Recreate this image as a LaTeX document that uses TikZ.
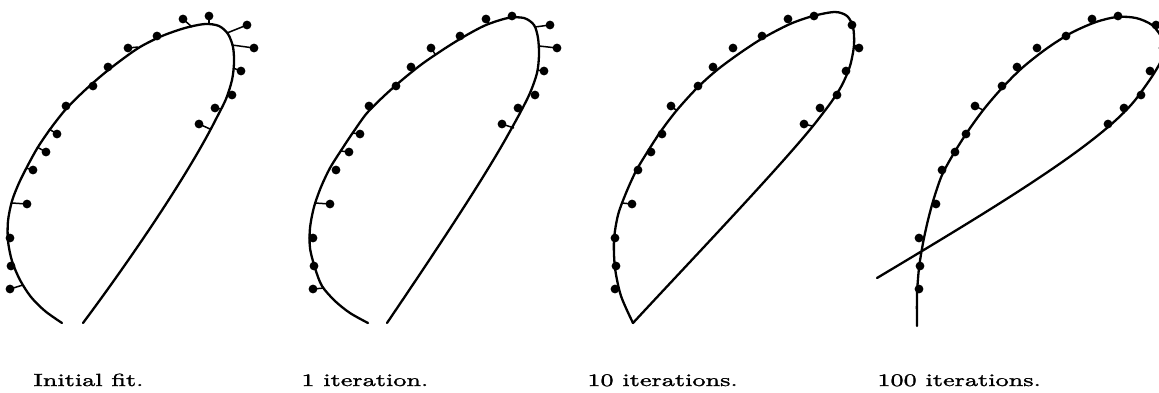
\documentclass[tikz,border=0pt]{standalone}
\usepackage{fontspec}
\usepackage{tikz}
\newfontfamily\capfont[FakeStretch=1.45,FakeBold=1.4]{Latin Modern Roman}

\begin{document}
\begin{tikzpicture}[x=0.5pt,y=-0.5pt,
  fitcurve/.style={line width=1.15pt,line join=round,line cap=round},
  resid/.style={line width=0.75pt},
  datum/.style={fill=black},
  caption/.style={anchor=base west,inner sep=0pt,font=\capfont\fontsize{8.8}{10}\selectfont}
]
\useasboundingbox (0,0) rectangle (1159,392);
\clip (0,0) rectangle (1159,392);
% fitted curves
\draw[fitcurve] plot[smooth] coordinates {(62,323) (45,311) (31,297) (20,280) (12,261) (8,241) (8,221) (12,201) (19,183) (28,165) (38,147) (51,128) (66,109) (83,92) (101,76) (120,61) (140,47) (162,36) (185,28) (205,24) (219,26) (228,34) (233,47) (234,63) (232,80) (226,99) (216,119)}
  .. controls (188,175) and (130,260) .. (83,323);
\begin{scope}[shift={(303,0)}]
\draw[fitcurve] plot[smooth] coordinates {(65,323) (47,313) (32,301) (19,286) (12,268) (7,248) (7,228) (11,207) (18,187) (27,168) (39,149) (51,131) (64,113) (81,96) (99,80) (119,64) (141,49) (162,36) (183,25) (205,18) (221,18) (231,25) (235,38) (236,55) (234,73) (227,93) (217,113) (206,133)}
  .. controls (180,180) and (130,255) .. (84,323);
\end{scope}
\begin{scope}[shift={(605,0)}]
\draw[fitcurve] plot[smooth] coordinates {(28,323) (16,296) (10,268) (9,240) (13,215) (21,193) (31,171) (43,151) (56,131) (72,110) (92,88) (112,70) (135,53) (158,38) (185,24) (208,16) (230,12) (242,16) (248,27) (249,45) (245,66) (237,85) (227,101) (215,117)}
  .. controls (185,157) and (75,272) .. (28,323);
\end{scope}
\begin{scope}[shift={(909,0)}]
\draw[fitcurve] plot[smooth] coordinates {(8,326) (8,295) (10,268) (14,243) (19,220) (25,198) (33,175) (45,153) (59,131) (75,109) (93,88) (113,68) (137,49) (162,33) (187,22) (208,17) (227,18) (243,25) (253,38) (256,50) (251,63) (242,78) (230,95)}
  .. controls (198,140) and (90,205) .. (-32,278);
\end{scope}
% residuals
\foreach \a/\b in {{183,19}/{192,27},{209,16}/{209,24},{247,25}/{227,33},{254,48}/{232,45},{241,71}/{233,68},{215,108}/{221,109},{199,124}/{210,129},{128,48}/{138,47},{108,67}/{112,67},{57,134}/{49,129},{46,152}/{37,147},{33,170}/{26,168},{27,204}/{12,203},{10,289}/{23,285}}
  \draw[resid] (\a) -- (\b);
\begin{scope}[shift={(303,0)}]
\foreach \a/\b in {{183,19}/{186,24},{247,25}/{232,27},{254,48}/{236,46},{241,71}/{234,70},{215,108}/{220,108},{199,124}/{211,128},{128,48}/{132,54},{108,67}/{111,71},{66,106}/{69,108},{57,134}/{50,133},{46,152}/{38,151},{27,204}/{12,203},{10,289}/{21,288}}
  \draw[resid] (\a) -- (\b);
\end{scope}
\begin{scope}[shift={(605,0)}]
\foreach \a/\b in {{254,48}/{249,45},{199,124}/{207,126},{66,106}/{71,110},{27,204}/{17,203},{10,289}/{14,290}}
  \draw[resid] (\a) -- (\b);
\end{scope}
\begin{scope}[shift={(909,0)}]
\foreach \a/\b in {{66,106}/{74,110}}
  \draw[resid] (\a) -- (\b);
\end{scope}
% data points, the same in every panel
\foreach \dx in {0,303,605,909}
  \foreach \p in {(183,19),(209,16),(247,25),(254,48),(241,71),(232,95),(215,108),(199,124),(157,36),(128,48),(108,67),(93,86),(66,106),(57,134),(46,152),(33,170),(27,204),(10,238),(11,266),(10,289)}
    \fill[datum,shift={(\dx,0)}] \p circle (2.2pt);
% captions
\node[caption] (cap0) at (33,386) {Initial fit.};
\node[caption] (cap1) at (301,386) {1 iteration.};
\node[caption] (cap10) at (587,386) {10 iterations.};
\node[caption] (cap100) at (877,386) {100 iterations.};
\end{tikzpicture}
\end{document}
